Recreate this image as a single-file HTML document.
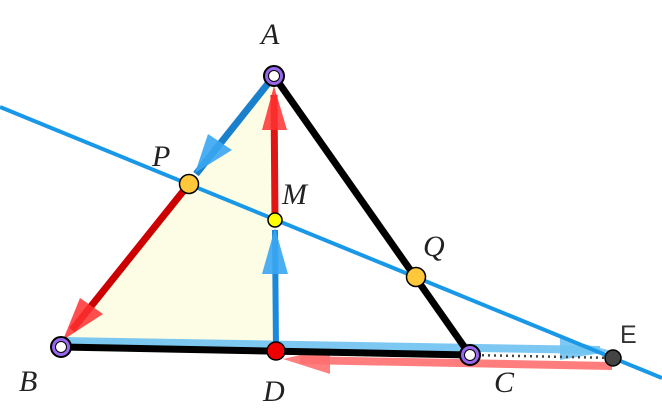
<!DOCTYPE html>
<html><head><meta charset="utf-8"><style>
html,body{margin:0;padding:0;background:#fff;width:662px;height:418px;overflow:hidden}
svg{display:block}
.l{font-family:"Liberation Serif",serif;font-style:italic;font-size:30px;fill:#222}
</style></head><body>
<svg width="662" height="418" viewBox="0 0 662 418">
<polygon points="274,76 61,347 276,351" fill="#fdfde6"/>
<line x1="61" y1="341" x2="600" y2="350" stroke="#6fc3f2" stroke-width="8" opacity="0.9"/>
<polygon points="560,338 612,351 560,360" fill="#6fc3f2" opacity="0.9"/>
<line x1="612" y1="366" x2="300" y2="360" stroke="#ff7070" stroke-width="8" opacity="0.9"/>
<polygon points="330,348 283,359 330,374" fill="#ff7070" opacity="0.9"/>
<line x1="61" y1="347" x2="470" y2="355" stroke="#000" stroke-width="7"/>
<line x1="274" y1="76" x2="470" y2="355" stroke="#000" stroke-width="7"/>
<line x1="470" y1="355" x2="613" y2="358" stroke="#444" stroke-width="2.5" stroke-dasharray="2,4"/>
<line x1="0" y1="107" x2="662" y2="378" stroke="#1a98e8" stroke-width="4"/>
<line x1="274" y1="76" x2="196" y2="174" stroke="#1a80cc" stroke-width="7"/>
<polygon points="208,134 232,150 195,173" fill="#3aa6f2" opacity="0.9"/>
<line x1="189" y1="184" x2="72" y2="330" stroke="#cc0000" stroke-width="7"/>
<polygon points="80,298 103,314 63,340" fill="#ff3030" opacity="0.85"/>
<line x1="275" y1="220" x2="274" y2="95" stroke="#e01515" stroke-width="7"/>
<polygon points="262,130 287,130 274,86" fill="#ff3030" opacity="0.85"/>
<line x1="276" y1="351" x2="275" y2="230" stroke="#1a88dd" stroke-width="6"/>
<polygon points="262,274 288,274 275,228" fill="#3aa6f2" opacity="0.9"/>
<circle cx="274" cy="76" r="10" fill="#9966ee" stroke="#000" stroke-width="2"/><circle cx="274" cy="76" r="5.5" fill="#fff" stroke="#000" stroke-width="1"/>
<circle cx="61" cy="347" r="10" fill="#9966ee" stroke="#000" stroke-width="2"/><circle cx="61" cy="347" r="5.5" fill="#fff" stroke="#000" stroke-width="1"/>
<circle cx="470" cy="355" r="10" fill="#9966ee" stroke="#000" stroke-width="2"/><circle cx="470" cy="355" r="5.5" fill="#fff" stroke="#000" stroke-width="1"/>
<circle cx="276" cy="351" r="9" fill="#ee0000" stroke="#000" stroke-width="1.5"/>
<circle cx="613" cy="358" r="8" fill="#444" stroke="#000" stroke-width="1.5"/>
<circle cx="189" cy="184" r="9.5" fill="#ffc83a" stroke="#000" stroke-width="1.5"/>
<circle cx="416" cy="277" r="9.5" fill="#ffc83a" stroke="#000" stroke-width="1.5"/>
<circle cx="275" cy="220" r="7" fill="#ffff00" stroke="#000" stroke-width="1.5"/>
<text class="l" x="261" y="44">A</text>
<text class="l" x="152" y="166">P</text>
<text class="l" x="282" y="204">M</text>
<text class="l" x="423" y="256">Q</text>
<text class="l" x="19" y="391">B</text>
<text class="l" x="263" y="401">D</text>
<text class="l" x="494" y="392">C</text>
<text x="620" y="343" font-family="Liberation Sans,sans-serif" font-size="25" fill="#333">E</text>
</svg>
</body></html>
